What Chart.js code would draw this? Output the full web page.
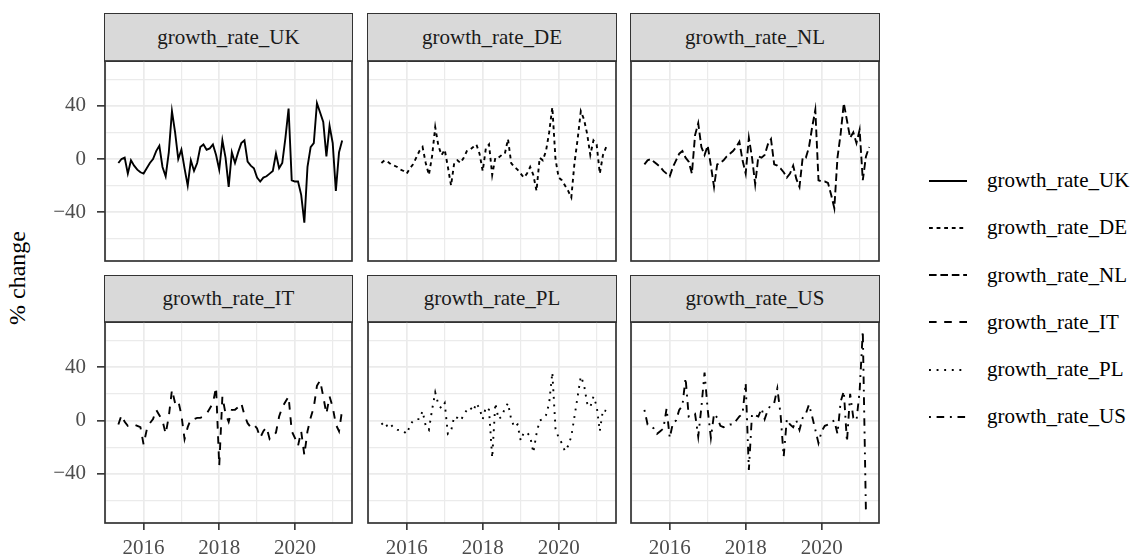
<!DOCTYPE html>
<html><head><meta charset="utf-8">
<script src="https://cdn.jsdelivr.net/npm/chart.js@4.4.1/dist/chart.umd.min.js"></script>
<style>
html,body{margin:0;padding:0;background:#fff;}
body{width:1133px;height:559px;overflow:hidden;position:relative;font-family:"Liberation Serif","Times New Roman",serif;}
.strip{position:absolute;background:#D9D9D9;border:1.6px solid #333;box-sizing:border-box;display:flex;align-items:center;justify-content:center;font-size:21px;color:#1A1A1A;}
.cw{position:absolute;}
.cw canvas{display:block;}
#ytitle{position:absolute;left:17px;top:278px;transform:translate(-50%,-50%) rotate(-90deg);font-size:24px;color:#000;white-space:nowrap;}
.lg{position:absolute;left:929px;height:20px;display:flex;align-items:center;font-size:21px;color:#000;white-space:nowrap;}
.lg svg{margin-right:20px;}
</style>
</head><body>
<div id="ytitle">% change</div>
<script>
// ---- data ----
const seriesNames = ['growth_rate_UK','growth_rate_DE','growth_rate_NL','growth_rate_IT','growth_rate_PL','growth_rate_US'];
// monthly observations, May 2015 .. Apr 2021
const startYear = 2015, startMonth = 5, nMonths = 72;
const ukValues = [-3,0,1,-11,-1,-5,-8,-10,-11,-7, -3,0,6,10,-6,-13,5,36,20,0, 7,-7,-20,-1,-9,-3,9,11,7,8, 11,3,-8,14,1,-21,5,-3,5,12, 14,-2,-5,-7,-14,-17,-14,-13,-11,-9, 4,-7,-3,16,38,-16,-17,-17,-27,-48, -6,9,12,42,35,28,2,25,12,-24, 5,14];
const deValues = [-3,-1,-2,-4,-5,-6,-8,-9,-11,-7, -4,1,6,9,-3,-12,2,24,10,3, 7,-6,-20,-3,-1,-3,1,6,7,9, 11,4,-9,8,11,-12,1,1,3,4, 15,-3,-6,-8,-11,-14,-11,-6,-12,-24, 1,-1,6,20,39,0,-14,-16,-20,-24, -29,-3,15,36,30,19,3,14,11,-11, 3,9];
const nlValues = [-4,-1,0,-2,-4,-6,-9,-11,-13,-6, -1,4,6,1,-2,-11,18,27,9,3, 10,-5,-21,-4,-3,-1,2,4,6,9, 13,-1,-11,16,1,-19,2,1,3,11, 15,-4,-5,-7,-10,-14,-11,-5,-15,-21, 1,1,9,24,37,-16,-17,-17,-18,-27, -37,1,19,42,29,16,20,12,22,-16, 2,9];
const itValues = [-3,4,-1,-4,-3,-3,-4,-5,-18,-7, -2,1,8,4,0,-10,3,23,13,15, 4,-14,-5,1,1,2,2,3,5,9, 13,25,-34,18,5,-1,8,8,10,13, 4,-2,-5,-3,-6,-13,-8,-5,-14,-12, -9,3,10,14,18,-8,-13,-19,-8,-26, -8,2,10,26,30,18,5,18,10,-3, -8,8];
const plValues = [-3,-1,-5,-3,-6,-7,-7,-8,-10,-4, 0,1,1,7,-4,-7,8,21,12,9, 13,-10,-8,3,2,0,4,8,10,7, 13,9,1,10,8,-28,13,1,3,9, 13,1,-5,-3,-15,-9,-9,-12,-24,-10, 0,1,4,13,36,-6,-13,-17,-23,-19, -12,3,18,33,27,13,10,18,11,-8, 8,7];
const usValues = [8,-3,-4,-6,-10,-8,-6,9,-13,-2, 0,8,11,32,3,4,5,-12,10,36, 8,-13,5,2,-4,-5,-4,-3,-3,0, 3,5,28,-37,5,4,3,9,1,8, 12,13,24,5,-27,1,-3,-5,0,-7, 2,5,12,3,-7,-17,-8,-4,-3,-1, 0,-10,14,22,-16,20,2,0,22,67, -70,null];
const yTickValues = [-60,-40,-20,0,20,40,60];
const yLabelValues = [-40,0,40];
const xTickValues = [2015,2016,2017,2018,2019,2020,2021];
const xLabelValues = [2016,2018,2020];
const xLimits = [2014.98, 2021.51];

const allSeries = [ukValues,deValues,nlValues,itValues,plValues,usValues];
// decimal-year position of each month
const monthX = [];
for (let i=0;i<nMonths;i++){ monthX.push(startYear + (startMonth-1)/12 + i/12); }

// ---- styles ----
const LW = 1.9, U = 1.9;
const dashes = [[], [2*U,2*U], [4*U,2*U], [4*U,4*U], [1*U,3*U], [1*U,3*U,4*U,3*U]];
const COLS = [[105,352],[368,616],[631,879]];
const ROWS = [[61,261],[322,523]];
const STRIPTOP = [13,275];
const allVals = allSeries.flat().filter(v=>v!==null);
const vmin = Math.min(...allVals), vmax = Math.max(...allVals);
const yexp = (vmax-vmin)*0.05;
const yLimits = [vmin-yexp, vmax+yexp];
const FONT = {family:"'Liberation Serif','Times New Roman',serif", size:21};
const minus = v => v<0 ? '\u2212'+Math.abs(v) : String(v);

const borderPlugin = {
  id:'panelBorder',
  afterDraw(chart){
    const a = chart.chartArea, ctx = chart.ctx;
    ctx.save(); ctx.strokeStyle='#333333'; ctx.lineWidth=1.7;
    ctx.strokeRect(a.left, a.top, a.right-a.left, a.bottom-a.top);
    ctx.restore();
  }
};
function zeroPad(sc){ sc.paddingLeft=0; sc.paddingRight=0; sc.paddingTop=0; sc.paddingBottom=0; }

seriesNames.forEach((name, idx) => {
  const c = idx%3, r = Math.floor(idx/3);
  const [pl,pr] = COLS[c], [pt,pb] = ROWS[r];
  const axW = c===0 ? 60 : 0, axH = r===1 ? 40 : 0, pad = 3;
  // strip
  const s = document.createElement('div');
  s.className='strip'; s.textContent=name;
  s.style.left=(pl-0.8)+'px'; s.style.top=STRIPTOP[r]+'px';
  s.style.width=(pr-pl+1.6)+'px'; s.style.height=(pt-STRIPTOP[r]+0.8)+'px';
  document.body.appendChild(s);
  // chart
  const w = (pr-pl)+axW+2*pad, h = (pb-pt)+axH+2*pad;
  const d = document.createElement('div'); d.className='cw';
  d.style.left=(pl-axW-pad)+'px'; d.style.top=(pt-pad)+'px';
  d.style.width=w+'px'; d.style.height=h+'px';
  const cv = document.createElement('canvas'); cv.width=w; cv.height=h;
  cv.style.width=w+'px'; cv.style.height=h+'px';
  d.appendChild(cv); document.body.appendChild(d);
  const pts = allSeries[idx].map((v,i)=>({x:monthX[i], y:v}));
  new Chart(cv, {
    type:'line',
    data:{datasets:[{label:name, data:pts, borderColor:'#000', borderWidth:LW, borderDash:dashes[idx],
      pointRadius:0, pointHoverRadius:0, tension:0, fill:false, spanGaps:false}]},
    options:{
      responsive:false, animation:false, devicePixelRatio:1,
      layout:{padding:{left:pad,right:pad,top:pad,bottom:pad}},
      plugins:{legend:{display:false}, tooltip:{enabled:false}},
      events:[],
      scales:{
        x:{type:'linear', min:xLimits[0], max:xLimits[1],
          afterBuildTicks:sc=>{sc.ticks = xTickValues.map(v=>({value:v}));},
          afterFit:sc=>{sc.height=axH; zeroPad(sc);},
          border:{display:false},
          grid:{color:'#EBEBEB', lineWidth:ctx=>xLabelValues.includes(ctx.tick&&ctx.tick.value)?1.7:1.2,
            drawTicks:r===1, tickLength:7, tickWidth:1.6,
            tickColor:ctx=>xLabelValues.includes(ctx.tick&&ctx.tick.value)?'#333333':'rgba(0,0,0,0)'},
          ticks:{display:r===1, autoSkip:false, maxRotation:0, minRotation:0, padding:6, color:'#4D4D4D', font:FONT,
            callback:v=>xLabelValues.includes(v)?String(v):''}
        },
        y:{type:'linear', min:yLimits[0], max:yLimits[1],
          afterBuildTicks:sc=>{sc.ticks = yTickValues.map(v=>({value:v}));},
          afterFit:sc=>{sc.width=axW; zeroPad(sc);},
          border:{display:false},
          grid:{color:'#EBEBEB', lineWidth:ctx=>yLabelValues.includes(ctx.tick&&ctx.tick.value)?1.7:1.2,
            drawTicks:c===0, tickLength:8, tickWidth:1.6,
            tickColor:ctx=>yLabelValues.includes(ctx.tick&&ctx.tick.value)?'#333333':'rgba(0,0,0,0)'},
          ticks:{display:c===0, autoSkip:false, padding:11, color:'#4D4D4D', font:FONT,
            callback:v=>yLabelValues.includes(v)?minus(v):''}
        }
      }
    },
    plugins:[borderPlugin]
  });
});

// legend
const legendTop = 180.7, legendGap = 47.2;
seriesNames.forEach((name, idx) => {
  const row = document.createElement('div'); row.className='lg';
  row.style.top=(legendTop + idx*legendGap - 10)+'px';
  const dash = dashes[idx].length ? dashes[idx].join(' ') : 'none';
  row.innerHTML = '<svg width="38" height="6" viewBox="0 0 38 6"><line x1="0" y1="3" x2="38" y2="3" stroke="#000" stroke-width="1.9" stroke-dasharray="'+dash+'"/></svg><span>'+name+'</span>';
  document.body.appendChild(row);
});
</script>
</body></html>
